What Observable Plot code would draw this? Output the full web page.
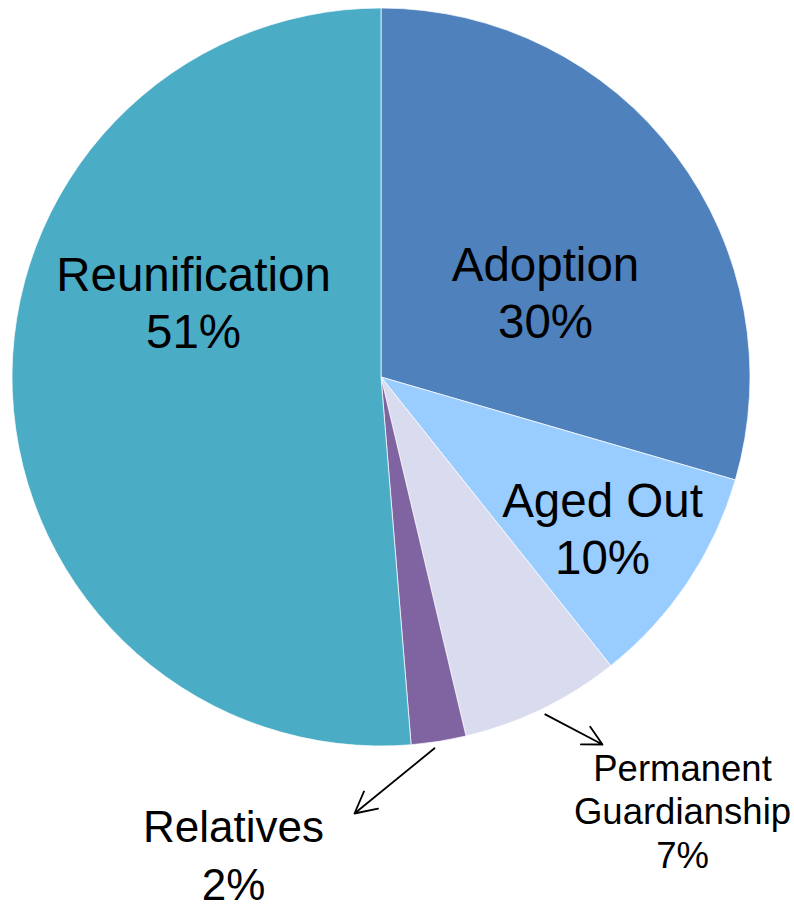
<!DOCTYPE html>
<html><head><meta charset="utf-8">
<script src="https://cdn.jsdelivr.net/npm/d3@7"></script>
<script src="https://cdn.jsdelivr.net/npm/@observablehq/plot@0.6"></script>
<style>body{margin:0;background:#fff}</style>
</head><body><div id="chart"></div>
<script>
// ---- data ----
const categories = ["Adoption", "Aged Out", "Permanent Guardianship", "Relatives", "Reunification"];
const shares = [29.5, 9.8, 7.0, 2.4, 51.3];
const percentLabels = ["30%", "10%", "7%", "2%", "51%"];
const colors = ["#4F81BD", "#99CCFF", "#D9DCEE", "#8064A2", "#4BACC6"];

// ---- layout (pixels) ----
const W = 794, H = 910, CX = 381, CY = 377, R = 369;
const ux = px => (px - CX) / R, uy = py => (py - CY) / R;
const labelLayout = {
  "Adoption": {x: 545, y: 337, group: "big"},
  "Aged Out": {x: 602, y: 573, group: "big"},
  "Permanent Guardianship": {x: 682, y: 867, group: "small", wrap: true},
  "Relatives": {x: 233, y: 899, group: "mid"},
  "Reunification": {x: 193, y: 347, group: "big"}
};
const arrowLayout = {
  "Permanent Guardianship": {shift: 0, x: 602, y: 744},
  "Relatives": {shift: 0.015, x: 354, y: 813}
};

const table = categories.map((c, i) => ({category: c, share: shares[i], pct: percentLabels[i], color: colors[i]}));
const arcs = d3.pie().sort(null).value(d => d.share).startAngle(0).endAngle(2 * Math.PI)(table);

const labels = table.map(d => {
  const L = labelLayout[d.category];
  const name = L.wrap ? d.category.replace(" ", "\n") : d.category;
  return {text: name + "\n" + d.pct, x: ux(L.x), y: uy(L.y), group: L.group};
});

const arrows = arcs.filter(a => arrowLayout[a.data.category]).map(a => {
  const e = arrowLayout[a.data.category];
  const mid = (a.startAngle + a.endAngle) / 2 + e.shift, r0 = 1.015;
  return {x1: r0 * Math.sin(mid), y1: -r0 * Math.cos(mid), x2: ux(e.x), y2: uy(e.y)};
});

function pieMark(index, scales) {
  const cx = scales.x(0), cy = scales.y(0), r = scales.x(1) - scales.x(0);
  const arc = d3.arc().innerRadius(0).outerRadius(r);
  const g = d3.create("svg:g").attr("transform", `translate(${cx},${cy})`);
  g.selectAll("path").data(arcs).join("path")
    .attr("d", arc)
    .attr("fill", d => d.data.color)
    .attr("stroke", "#ffffff")
    .attr("stroke-width", 1)
    .attr("stroke-opacity", 0.7);
  return g.node();
}

const textOpts = {x: "x", y: "y", text: "text", lineAnchor: "bottom", fill: "#000"};
const chart = Plot.plot({
  width: W, height: H,
  margin: 0,
  style: {fontFamily: "'Liberation Sans', Arial, sans-serif", background: "#fff", overflow: "visible"},
  x: {domain: [ux(0), ux(W)], range: [0, W], axis: null},
  y: {domain: [uy(0), uy(H)], range: [0, H], axis: null},
  marks: [
    pieMark,
    Plot.arrow(arrows, {x1: "x1", y1: "y1", x2: "x2", y2: "y2", stroke: "#000", strokeWidth: 1.8, headLength: 20, headAngle: 55}),
    Plot.text(labels.filter(d => d.group === "big"), {...textOpts, fontSize: 47.5, lineHeight: 1.2}),
    Plot.text(labels.filter(d => d.group === "mid"), {...textOpts, fontSize: 44, lineHeight: 1.3}),
    Plot.text(labels.filter(d => d.group === "small"), {...textOpts, fontSize: 36.5, lineHeight: 1.19})
  ]
});
document.getElementById("chart").appendChild(chart);
</script>
</body></html>
